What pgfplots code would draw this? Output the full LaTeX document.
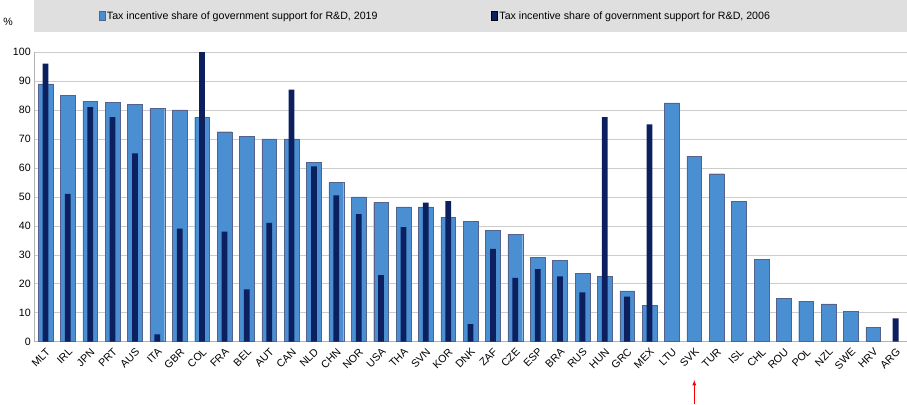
\documentclass[border=0pt]{standalone}
\usepackage{pgfplots}
\pgfplotsset{compat=1.18}
\usepackage{fontspec}
\setmainfont{Liberation Sans}
\definecolor{b19}{HTML}{4A8FD2}
\definecolor{b06}{HTML}{0C1F5E}
\begin{document}
\begin{tikzpicture}
\begin{axis}[
  scale only axis, width=862pt, height=286pt,
  xmin=-0.5, xmax=38.5, ymin=0, ymax=100,
  ytick={0,10,...,100},
  xtick={0,...,38},
  xticklabels={MLT,IRL,JPN,PRT,AUS,ITA,GBR,COL,FRA,BEL,AUT,CAN,NLD,CHN,NOR,USA,THA,SVN,KOR,DNK,ZAF,CZE,ESP,BRA,RUS,HUN,GRC,MEX,LTU,SVK,TUR,ISL,CHL,ROU,POL,NZL,SWE,HRV,ARG},
  x tick label style={rotate=45, anchor=north east, font=\fontsize{10.5}{12}\selectfont, inner sep=1pt},
  y tick label style={font=\fontsize{10.5}{12}\selectfont},
  /pgf/number format/assume math mode=true,
  ymajorgrids, major grid style={gray!40},
  axis line style={gray!60}, tick style={draw=none},
  axis x line*=bottom, axis y line*=left,
  ybar, bar shift=0pt,
  legend columns=2,
  legend style={at={(0.07,1.125)}, anchor=west, draw=none, fill=none,
     font=\fontsize{10.5}{12}\selectfont, /tikz/every even column/.append style={column sep=110pt}},
  legend image code/.code={\draw[#1] (0pt,-4pt) rectangle (6pt,5pt);},
  clip=false,
]
\fill[gray!25] (rel axis cs:0,1.07) rectangle (rel axis cs:1,1.18);
\addplot[fill=b19, draw=b06!70, line width=0.3pt, bar width=0.66] coordinates {
(0,89)(1,85)(2,83)(3,82.7)(4,82)(5,80.5)(6,80)(7,77.5)(8,72.5)(9,71)(10,70)(11,70)(12,62)(13,55)(14,50)(15,48)(16,46.5)(17,46.5)(18,43)(19,41.5)(20,38.5)(21,37)(22,29)(23,28)(24,23.5)(25,22.5)(26,17.5)(27,12.5)(28,82.5)(29,64)(30,58)(31,48.5)(32,28.5)(33,15)(34,14)(35,13)(36,10.5)(37,5)};
\addlegendentry{Tax incentive share of government support for R\&D, 2019}
\addplot[fill=b06, draw=none, bar width=0.26] coordinates {
(0,96)(1,51)(2,81)(3,77.5)(4,65)(5,2.5)(6,39)(7,100)(8,38)(9,18)(10,41)(11,87)(12,60.5)(13,50.5)(14,44)(15,23)(16,39.5)(17,48)(18,48.5)(19,6)(20,32)(21,22)(22,25)(23,22.5)(24,17)(25,77.5)(26,15.5)(27,75)(38,8)};
\addlegendentry{Tax incentive share of government support for R\&D, 2006}
\node[font=\fontsize{10.5}{12}\selectfont] at (rel axis cs:-0.03,1.105) {\%};
\draw[red, -latex, line width=0.8pt] ([yshift=-62pt]axis cs:29,0) -- ([yshift=-38pt]axis cs:29,0);
\end{axis}
\end{tikzpicture}
\end{document}
